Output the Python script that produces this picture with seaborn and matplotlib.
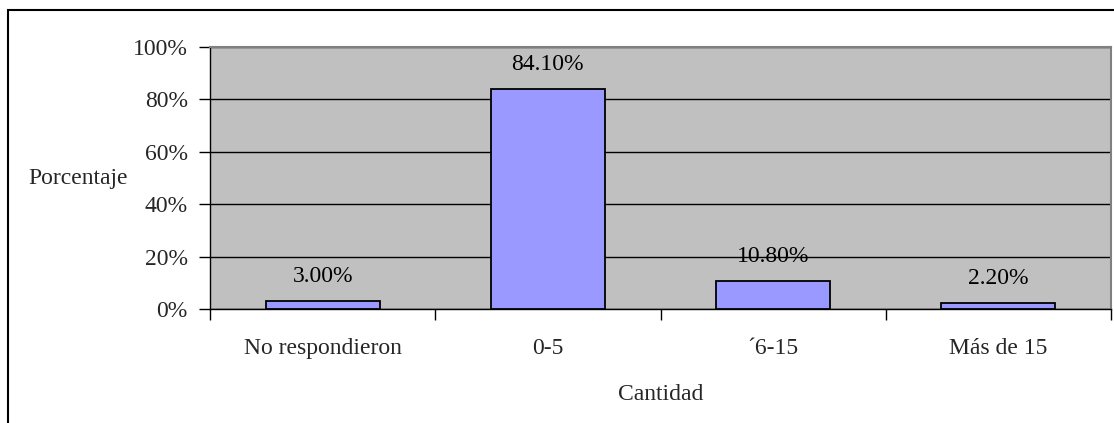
import matplotlib
matplotlib.use("Agg")
import matplotlib.pyplot as plt
import seaborn as sns
import pandas as pd
from matplotlib.patches import Rectangle
from matplotlib.ticker import FixedLocator

categories = ["No respondieron", "0-5", "´6-15", "Más de 15"]
values = [3.0, 84.1, 10.8, 2.2]
value_labels = ["3.00%", "84.10%", "10.80%", "2.20%"]
y_ticks = [0, 20, 40, 60, 80, 100]
y_tick_labels = ["0%", "20%", "40%", "60%", "80%", "100%"]
x_title = "Cantidad"
y_title = "Porcentaje"

df = pd.DataFrame({"cat": categories, "val": values})

sns.set_theme(style="white")
plt.rcParams["font.family"] = ["Liberation Serif", "DejaVu Serif"]

FS = 17
W, H = 1114, 423
fig = plt.figure(figsize=(W / 100, H / 100), dpi=100)
ax = fig.add_axes([210 / W, 1 - 309 / H, (1111 - 210) / W, (309 - 47) / H])
ax.set_facecolor("#C0C0C0")

sns.barplot(data=df, x="cat", y="val", ax=ax, color="#9999FF", width=0.505,
            edgecolor="black", linewidth=1.3, saturation=1, zorder=3)

ax.set_ylim(0, 100)
ax.set_xlim(-0.5, len(categories) - 0.5)
ax.set_yticks(y_ticks)
ax.set_yticklabels(y_tick_labels, fontsize=FS)
ax.yaxis.grid(True, color="black", linewidth=1.0, zorder=1)
ax.set_axisbelow(True)

# x tick marks at category boundaries, labels at centres
ax.set_xticks(range(len(categories)))
ax.set_xticklabels(categories, fontsize=FS)
ax.xaxis.set_minor_locator(FixedLocator([i + 0.5 for i in range(-1, len(categories))]))
ax.tick_params(axis="x", which="major", length=0, pad=21)
ax.tick_params(axis="x", which="minor", bottom=True, length=8, width=1, color="black", direction="out")
ax.tick_params(axis="y", which="major", left=True, length=8, width=1, color="black", direction="out", pad=8)

ax.set_xlabel(x_title, fontsize=FS, labelpad=18)
ax.set_ylabel(y_title, fontsize=FS, rotation=0, ha="right", va="center")
ax.yaxis.set_label_coords(-0.091, 0.5)

for s in ["left", "bottom"]:
    ax.spines[s].set_color("black")
    ax.spines[s].set_linewidth(1.0)
for s in ["top", "right"]:
    ax.spines[s].set_color("#808080")
    ax.spines[s].set_linewidth(1.5)

for bar, lab in zip(ax.patches, value_labels):
    ax.annotate(lab, (bar.get_x() + bar.get_width() / 2, bar.get_height()),
                xytext=(0, 10), textcoords="offset points",
                ha="center", va="bottom", fontsize=FS, color="black")

fig.add_artist(Rectangle((8 / W, -0.1), 2, 1 - 10 / H + 0.1, transform=fig.transFigure,
                         fill=False, edgecolor="black", linewidth=1.5))

fig.savefig("out.png", dpi=100, facecolor="white")
